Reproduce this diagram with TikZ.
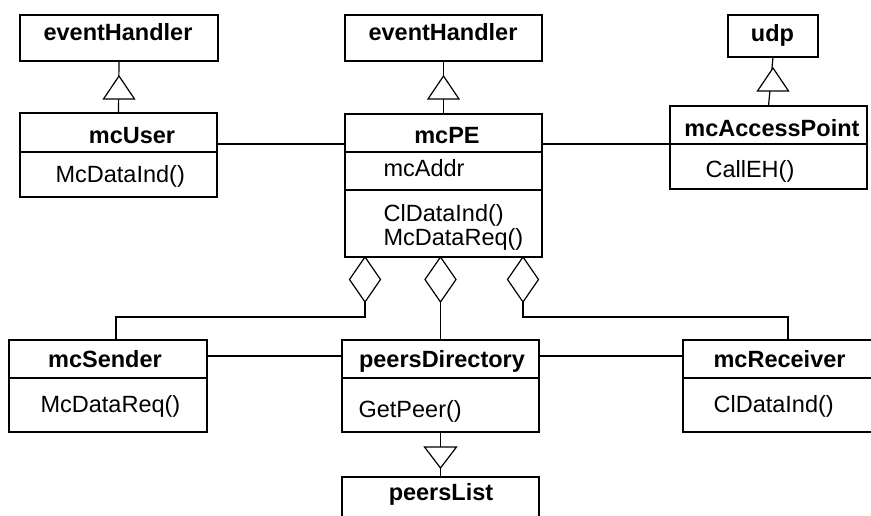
\documentclass[tikz,border=0pt]{standalone}
\usepackage{fontspec}
\setmainfont{Liberation Sans}
\usetikzlibrary{calc}
\newcommand\umlfont{\fontsize{23.5}{28}\selectfont}
\begin{document}
\begin{tikzpicture}[x=1pt,y=-1pt,line width=1.2pt,
  cls/.style={draw,anchor=north west,inner sep=0pt,outer sep=0pt},
  ttl/.style={font=\umlfont\bfseries,anchor=base,inner sep=0pt},
  op/.style={font=\umlfont,anchor=base west,inner sep=0pt},
  gentri/.pic={\draw[fill=white] (0,0) -- (-15.5,23) -- (15.5,23) -- cycle;},
  gentridown/.pic={\draw[fill=white] (0,0) -- (-16,-21) -- (16,-21) -- cycle;},
  aggdia/.pic={\draw[fill=white] (0,0) -- (-15.5,22.5) -- (0,45) -- (15.5,22.5) -- cycle;}]
\path[use as bounding box] (0,0) rectangle (871,516);
\clip (0,0) rectangle (871,516);

% class boxes
\node[cls,minimum width=198pt,minimum height=46pt] (eh1) at (20,15) {};
\node[cls,minimum width=197pt,minimum height=46pt] (eh2) at (345,15) {};
\node[cls,minimum width=90pt,minimum height=42pt] (udp) at (728,15) {};
\node[cls,minimum width=197pt,minimum height=84pt] (mcUser) at (20,113) {};
\node[cls,minimum width=197pt,minimum height=143pt] (mcPE) at (345,114) {};
\node[cls,minimum width=197pt,minimum height=83pt] (mcAP) at (670,106) {};
\node[cls,minimum width=198pt,minimum height=92pt] (mcS) at (9,340) {};
\node[cls,minimum width=197pt,minimum height=92pt] (pD) at (342,340) {};
\node[cls,minimum width=210pt,minimum height=92pt] (mcR) at (683,340) {};
\node[cls,minimum width=197pt,minimum height=60pt] (pL) at (342,477) {};

% compartment separators
\draw ($(mcUser.north west)+(0,39)$) -- ($(mcUser.north east)+(0,39)$);
\draw ($(mcPE.north west)+(0,38)$) -- ($(mcPE.north east)+(0,38)$);
\draw ($(mcPE.north west)+(0,76)$) -- ($(mcPE.north east)+(0,76)$);
\draw ($(mcAP.north west)+(0,38)$) -- ($(mcAP.north east)+(0,38)$);
\draw ($(mcS.north west)+(0,38)$) -- ($(mcS.north east)+(0,38)$);
\draw ($(pD.north west)+(0,38)$) -- ($(pD.north east)+(0,38)$);
\draw ($(mcR.north west)+(0,38)$) -- ($(mcR.north east)+(0,38)$);

% names and operations
\node[ttl] (eh1t) at (118,41) {eventHandler};
\node[ttl] (eh2t) at (443,41) {eventHandler};
\node[ttl] (udpt) at (772.5,42) {udp};
\node[ttl] (mcUsert) at (132,144) {mcUser};
\node[op] (mcUsero) at (55,183) {McDataInd()};
\node[ttl] (mcPEt) at (447,144) {mcPE};
\node[op] (mcPEa) at (383,177) {mcAddr};
\node[op] (mcPEo1) at (383,222) {ClDataInd()};
\node[op] (mcPEo2) at (383,245) {McDataReq()};
\node[ttl] (mcAPt) at (772,137) {mcAccessPoint};
\node[op] (mcAPo) at (705,178) {CallEH()};
\node[ttl] (mcSt) at (105,367) {mcSender};
\node[op] (mcSo) at (40,412) {McDataReq()};
\node[ttl] (pDt) at (442,367) {peersDirectory};
\node[op] (pDo) at (358,417) {GetPeer()};
\node[ttl] (pLt) at (441,500) {peersList};
\node[op,font=\umlfont\bfseries] (mcRt) at (713,367) {mcReceiver};
\node[op] (mcRo) at (713,412) {ClDataInd()};

% associations
\draw ($(mcUser.north east)+(0,31)$) -- ($(mcPE.north west)+(0,30)$);
\draw ($(mcPE.north east)+(0,30)$) -- ($(mcAP.north west)+(0,38)$);
\draw ($(mcS.north east)+(0,16)$) -- ($(pD.north west)+(0,16)$);
\draw ($(pD.north east)+(0,16)$) -- ($(mcR.north west)+(0,16)$);

% generalisations
\draw (eh1.south) -- (mcUser.north);
\pic at ($(eh1.south)+(0,15)$) {gentri};
\draw (eh2.south) -- (mcPE.north);
\pic at ($(eh2.south)+(0,15)$) {gentri};
\draw (udp.south) -- (mcAP.north);
\pic at ($(udp.south)+(0,11)$) {gentri};
\draw (pD.south) -- (pL.north);
\pic at ($(pL.north)+(0,-9)$) {gentridown};

% aggregations of mcPE
\coordinate (aggL) at ($(mcPE.south west)+(20,0)$);
\coordinate (aggM) at (pD.north |- mcPE.south);
\coordinate (aggR) at ($(mcPE.south east)+(-19,0)$);
\draw (aggL) -- ++(0,60) -| ($(mcS.north west)+(107,0)$);
\draw (aggM) -- (pD.north);
\draw (aggR) -- ++(0,60) -| ($(mcR.north west)+(105,0)$);
\pic at (aggL) {aggdia};
\pic at (aggM) {aggdia};
\pic at (aggR) {aggdia};
\end{tikzpicture}
\end{document}
